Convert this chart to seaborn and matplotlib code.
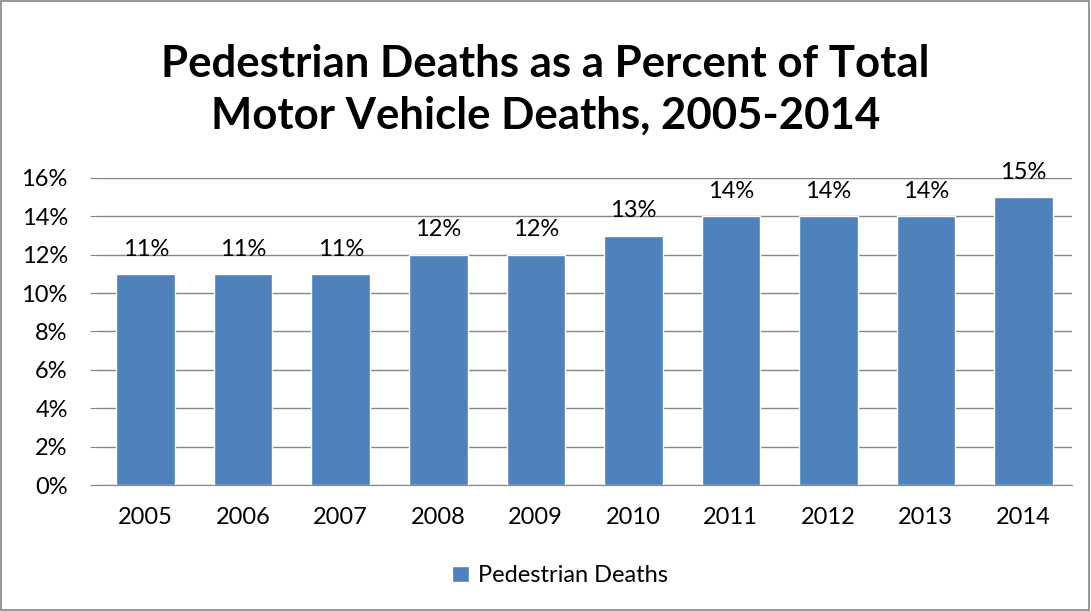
import matplotlib
matplotlib.use("Agg")
import matplotlib.pyplot as plt
import seaborn as sns
import pandas as pd
from matplotlib.patches import Rectangle

years = ["2005", "2006", "2007", "2008", "2009", "2010", "2011", "2012", "2013", "2014"]
pct = [11, 11, 11, 12, 12, 13, 14, 14, 14, 15]
yticks = [0, 2, 4, 6, 8, 10, 12, 14, 16]

df = pd.DataFrame({"Year": years, "Pct": pct})

sns.set_style("white")
plt.rcParams['font.family'] = ['Lato', 'DejaVu Sans']
plt.rcParams['text.color'] = 'black'
plt.rcParams['xtick.labelcolor'] = 'black'
plt.rcParams['ytick.labelcolor'] = 'black'

fig = plt.figure(figsize=(10.91, 6.11), dpi=100)
ax = fig.add_axes([0.0889, 0.2062, 0.8937, 0.5025])

bar_color = "#4F81BD"
sns.barplot(data=df, x="Year", y="Pct", color=bar_color, width=0.6,
            saturation=1, ax=ax, zorder=3, label="Pedestrian Deaths")

ax.set_ylim(0, 16)
ax.set_yticks(yticks)
ax.set_yticklabels([f"{t}%" for t in yticks])
ax.yaxis.grid(True, color="#868686", linewidth=1)
ax.set_axisbelow(True)
for s in ["top", "right", "left"]:
    ax.spines[s].set_visible(False)
ax.spines["bottom"].set_color("#868686")
ax.tick_params(axis="y", length=5, color="#868686", labelsize=17, pad=16, left=True,
               labelcolor="black")
ax.tick_params(axis="x", length=0, labelsize=17, pad=16, labelcolor="black")
ax.set_xlabel("")
ax.set_ylabel("")

for i, v in enumerate(pct):
    ax.text(i, v + 0.75, f"{v}%", ha="center", va="bottom", fontsize=17, color="black")

fig.text(0.5, 0.853, "Pedestrian Deaths as a Percent of Total\nMotor Vehicle Deaths, 2005-2014",
         ha="center", va="center", fontsize=31.5, fontweight="bold", linespacing=1.38,
         color="black")

leg = ax.legend(loc="center", bbox_to_anchor=(0.475, -0.296), frameon=False,
                fontsize=17, handlelength=0.7, handleheight=0.7, handletextpad=0.4)

fig.patches.append(Rectangle((0.001, 0.001), 0.997, 0.997, transform=fig.transFigure,
                             fill=False, edgecolor="#868686", linewidth=1.2))

fig.savefig("out.png", dpi=100)
